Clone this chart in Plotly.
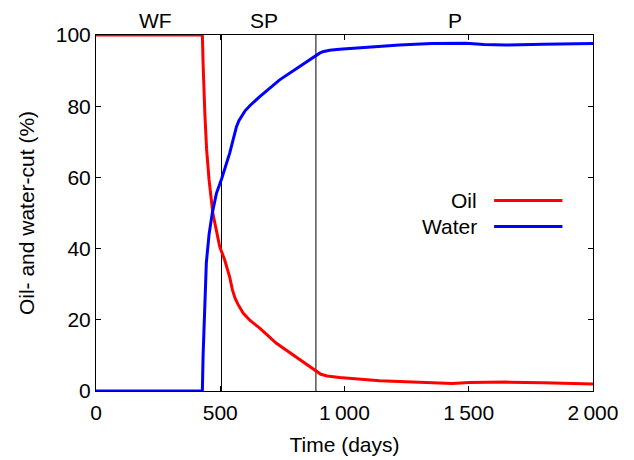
import plotly.graph_objects as go

# Production history: oil and water cut versus time
time_oil = [0, 428, 431, 434, 438, 445, 455, 470, 485, 498, 518, 538, 549, 560,
            571, 580, 592, 620, 660, 726, 800, 850, 886, 905, 930, 980, 1141, 1300,
            1434, 1502, 1650, 1800, 2000]
oil_cut = [100, 100, 92, 85, 78, 68, 59.3, 50, 45, 40.5, 36.8, 32, 28.4, 26.0,
           24.4, 23.2, 21.9, 19.8, 17.6, 13.4, 9.7, 7.2, 5.4, 4.7, 4.2, 3.8, 2.9,
           2.5, 2.1, 2.4, 2.5, 2.3, 2.0]

time_water = [0, 428, 431, 438, 444, 455, 468, 485, 505, 538, 565, 575, 585, 600,
              620, 659, 739, 820, 886, 900, 913, 940, 980, 1100, 1221, 1350, 1462,
              1489, 1560, 1650, 1800, 2000]
water_cut = [0, 0, 10, 21.9, 36, 44, 50, 55.6, 59.5, 66.8, 74.2, 75.9, 77.1, 78.7,
             80.2, 82.7, 87.4, 91.3, 94.4, 94.9, 95.3, 95.7, 96.0, 96.7, 97.2, 97.6,
             97.8, 97.7, 97.3, 97.2, 97.4, 97.6]

# Phase boundaries (days) and phase labels
phase_bounds = [505, 885]
phase_names = ["WF", "SP", "P"]
phase_label_x = [240, 678, 1444]

x_tickvals = [0, 500, 1000, 1500, 2000]
x_ticktext = ["0", "500", "1\u2009000", "1\u2009500", "2\u2009000"]
y_tickvals = [0, 20, 40, 60, 80, 100]

FONT = "Liberation Sans, Arial, Helvetica, sans-serif"
FS = 21

fig = go.Figure()
fig.add_trace(go.Scatter(x=time_oil, y=oil_cut, mode="lines", name="Oil",
                         line=dict(color="#ff0000", width=3), cliponaxis=False,
                         showlegend=False))
fig.add_trace(go.Scatter(x=time_water, y=water_cut, mode="lines", name="Water",
                         line=dict(color="#0000ff", width=3), cliponaxis=False,
                         showlegend=False))

shapes = []
for xb in phase_bounds:
    shapes.append(dict(type="line", xref="x", yref="y", x0=xb, x1=xb, y0=0, y1=100,
                       line=dict(color="black", width=1), layer="below"))

# Key: label to the left of a line sample
key_items = [("Oil", "#ff0000", 53.5), ("Water", "#0000ff", 46.2)]
annotations = []
for name, color, yk in key_items:
    shapes.append(dict(type="line", xref="x", yref="y", x0=1602, x1=1877, y0=yk, y1=yk,
                       line=dict(color=color, width=3)))
    annotations.append(dict(x=1540, y=yk, xref="x", yref="y", text=name,
                            showarrow=False, xanchor="right", yanchor="middle",
                            font=dict(family=FONT, size=FS, color="black")))

for name, xl in zip(phase_names, phase_label_x):
    annotations.append(dict(x=xl, y=1.0, xref="x", yref="paper", yshift=15, text=name,
                            showarrow=False, xanchor="center", yanchor="middle",
                            font=dict(family=FONT, size=FS, color="black")))

axis_common = dict(showline=True, linecolor="black", linewidth=1, mirror="ticks",
                   ticks="inside", ticklen=5, tickcolor="black", tickwidth=1,
                   showgrid=False, zeroline=False, automargin=False,
                   tickfont=dict(family=FONT, size=FS, color="black"))

fig.update_layout(
    width=634, height=460,
    margin=dict(l=96, r=41, t=35, b=69),
    paper_bgcolor="white", plot_bgcolor="white",
    font=dict(family=FONT, size=FS, color="black"),
    shapes=shapes, annotations=annotations,
    xaxis=dict(range=[0, 2000], tickvals=x_tickvals, ticktext=x_ticktext,
               ticklabelstandoff=3,
               title=dict(text="Time (days)", standoff=14,
                          font=dict(family=FONT, size=FS)),
               **axis_common),
    yaxis=dict(range=[0, 100], tickvals=y_tickvals,
               title=dict(text="Oil- and water-cut (%)", standoff=15,
                          font=dict(family=FONT, size=FS)),
               **axis_common),
)

fig.write_html("out.html")
